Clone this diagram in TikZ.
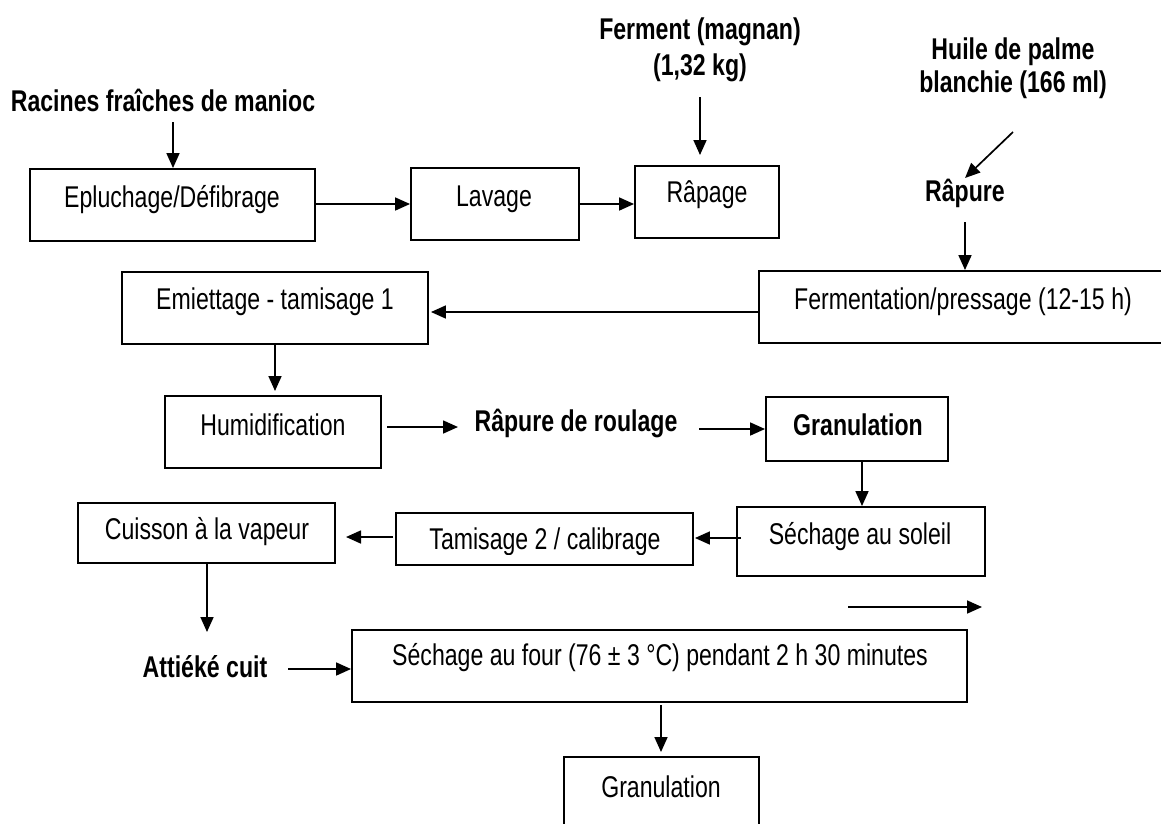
\documentclass[tikz,border=0pt]{standalone}
\usepackage{fontspec}
\setmainfont{Liberation Sans}[FakeStretch=0.77]
\usetikzlibrary{arrows.meta}
\tikzset{
  pbox/.style={draw, line width=1.9pt, inner sep=0pt, fill=none},
  ptext/.style={inner sep=0pt, font=\fontsize{30}{36}\selectfont},
  btext/.style={inner sep=0pt, align=center, font=\fontsize{30}{36}\selectfont\bfseries},
  arr/.style={line width=1.7pt, -{Triangle[length=15pt,width=13pt]}}
}
\newcommand\pbox[8]{%
  \node[pbox, minimum width={#4-#2}, minimum height={#5-#3}] (#1) at ({(#2+#4)/2},{(#3+#5)/2}) {};
  \node[ptext] (#1-t) at (#6,#7) {#8};}
\begin{document}
\begin{tikzpicture}[x=1pt,y=-1pt]
\useasboundingbox (0,0) rectangle (1161,823);
% free-standing bold texts
\node[btext] (racines) at (163,100) {Racines fraîches de manioc};
\node[btext, font=\fontsize{30}{36}\selectfont\bfseries] (ferment) at (700,50) {Ferment (magnan)\\(1,32 kg)};
\node[btext, font=\fontsize{30}{33}\selectfont\bfseries] (huile) at (1013,68.5) {Huile de palme\\blanchie (166 ml)};
\node[btext] (rapure) at (965,193) {Râpure};
\node[btext] (roulage) at (576,423) {Râpure de roulage};
\node[btext] (attieke) at (205,667) {Attiéké cuit};
% boxes
\pbox{epl}{30}{169}{315}{241}{172}{200}{Epluchage/Défibrage}
\pbox{lav}{411}{168}{579}{240}{494}{199}{Lavage}
\pbox{rap}{635}{166}{779}{238}{707}{195}{Râpage}
\pbox{ferm}{759}{271}{1167}{343}{963}{302}{Fermentation/pressage (12-15 h)}
\pbox{emi}{122}{272}{428}{344}{275}{302}{Emiettage - tamisage 1}
\pbox{hum}{165}{396}{381}{468}{273}{425}{Humidification}
\pbox{gran}{766}{397}{948}{461}{858}{425}{\bfseries Granulation}
\pbox{sol}{737}{507}{985}{576}{860}{537}{Séchage au soleil}
\node[pbox, minimum width=297, minimum height=52] (tam) at (544.5,539) {};
\begin{scope}
  \clip (396,513) rectangle (693,554);
  \node[ptext] (tam-t) at (545,542) {Tamisage 2 / calibrage};
\end{scope}
\pbox{cuis}{78}{503}{335}{563}{207}{532}{Cuisson à la vapeur}
\pbox{four}{352}{630}{967}{702}{660}{658}{Séchage au four (76 ± 3 °C) pendant 2 h 30 minutes}
\pbox{gran2}{564}{757}{759}{830}{661}{787}{Granulation}
% free ends of connectors
\coordinate (c1) at (173,122);
\coordinate (c2a) at (700,97);
\coordinate (c2b) at (700,155);
\coordinate (c3a) at (1013,132);
\coordinate (c3b) at (965,178);
\coordinate (c4) at (965,222);
\coordinate (c5) at (275,391);
\coordinate (c6a) at (387,427);
\coordinate (c6b) at (458,427);
\coordinate (c7a) at (699,429);
\coordinate (c8a) at (741,538);
\coordinate (c9a) at (393,537);
\coordinate (c9b) at (346,537);
\coordinate (c10) at (207,632);
\coordinate (c11) at (288,669);
\coordinate (c12a) at (661,705);
\coordinate (c12b) at (661,752);
\coordinate (s1) at (848,607);
\coordinate (s2) at (982,607);
% connectors
\draw[arr] (c1) -- (c1 |- epl.north);
\draw[arr] (epl.east |- 0,204) -- (lav.west |- 0,204);
\draw[arr] (lav.east |- 0,204) -- (rap.west |- 0,204);
\draw[arr] (c2a) -- (c2b);
\draw[arr] (c3a) -- (c3b);
\draw[arr] (c4) -- (c4 |- ferm.north);
\draw[arr] (ferm.west |- 0,312) -- ([xshift=2pt]emi.east |- 0,312);
\draw[arr] (emi.south -| c5) -- (c5);
\draw[arr] (c6a) -- (c6b);
\draw[arr] (c7a) -- (gran.west |- c7a);
\draw[arr] (gran.south -| 862,0) -- (sol.north -| 862,0);
\draw[arr] (c8a) -- ([xshift=1pt]tam.east |- c8a);
\draw[arr] (c9a) -- (c9b);
\draw[arr] (cuis.south -| c10) -- (c10);
\draw[arr] (c11) -- (four.west |- c11);
\draw[arr] (c12a) -- (c12b);
\draw[arr] (s1) -- (s2);
\end{tikzpicture}
\end{document}
